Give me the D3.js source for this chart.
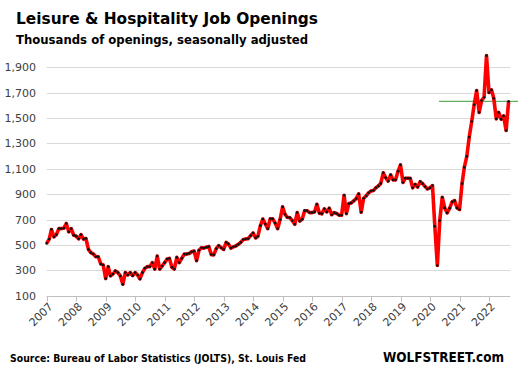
<!DOCTYPE html>
<html>
<head>
<meta charset="utf-8">
<script src="https://cdn.jsdelivr.net/npm/d3@7"></script>
<style>
  body { margin: 0; background: #fff; }
  svg { display: block; font-family: "DejaVu Sans", sans-serif; }
</style>
</head>
<body>
<div id="chart"></div>
<script>
// Leisure & hospitality job openings, thousands, SA, monthly from Jan 2007
const firstMonth = "2007-01";
const openings = [
  512, 546, 622, 564, 582, 629, 629, 632, 669, 603, 629, 577,    // 2007
  569, 548, 582, 546, 551, 465, 439, 428, 407, 407, 350, 342,    // 2008
  235, 329, 256, 271, 295, 282, 256, 190, 282, 263, 282, 258,    // 2009
  282, 263, 232, 282, 316, 329, 329, 360, 310, 412, 310, 334,    // 2010
  360, 389, 394, 324, 310, 402, 360, 394, 428, 428, 433, 446,    // 2011
  452, 376, 458, 478, 475, 482, 487, 424, 422, 471, 495, 478,    // 2012
  465, 520, 508, 475, 485, 492, 505, 521, 542, 547, 550, 573,    // 2013
  594, 555, 568, 652, 704, 665, 628, 706, 706, 672, 628, 700,    // 2014
  800, 740, 718, 715, 692, 663, 755, 688, 702, 770, 770, 755,    // 2015
  755, 760, 820, 750, 745, 785, 760, 790, 738, 755, 748, 735,    // 2016
  734, 891, 747, 826, 831, 848, 865, 902, 758, 868, 886, 910,    // 2017
  925, 930, 950, 965, 985, 1068, 1030, 1003, 1052, 1013, 1013, 1080, // 2018
  1131, 992, 1026, 1026, 1025, 950, 978, 956, 999, 983, 960, 941,    // 2019
  950, 968, 647, 338, 692, 876, 792, 752, 790, 839, 849, 792,        // 2020
  779, 983, 1111, 1198, 1350, 1473, 1604, 1717, 1544, 1638, 1664, 1992, // 2021
  1701, 1722, 1656, 1494, 1544, 1491, 1517, 1402, 1632              // 2022
];
const yTicks = [100, 300, 500, 700, 900, 1100, 1300, 1500, 1700, 1900];
const xYears = [2007, 2008, 2009, 2010, 2011, 2012, 2013, 2014, 2015, 2016, 2017, 2018, 2019, 2020, 2021, 2022];
const refLevel = 1632;  // latest value, marked with a line

const width = 521, height = 372;
const svg = d3.select("#chart").append("svg").attr("width", width).attr("height", height);

const parseMonth = d3.timeParse("%Y-%m");
const start = parseMonth(firstMonth);
const data = openings.map((v, i) => ({ date: d3.timeMonth.offset(start, i), value: v }));

let x = d3.scaleTime().domain([new Date(2007, 0, 1), new Date(2022, 0, 1)]).range([46.7, 489]),
    y = d3.scaleLinear().domain([100, 1900]).range([295.7, 67.3]);

const xEnd = x(new Date(2022, 8, 22));

// gridlines
svg.append("g")
  .selectAll("line")
  .data(yTicks.slice(1))
  .join("line")
  .attr("x1", x.range()[0]).attr("x2", xEnd)
  .attr("y1", d => Math.round(y(d)) + 0.5).attr("y2", d => Math.round(y(d)) + 0.5)
  .attr("stroke", "#d9d9d9");

// y labels
svg.append("g")
  .selectAll("text")
  .data(yTicks)
  .join("text")
  .attr("x", 36)
  .attr("y", d => y(d))
  .attr("dy", "0.36em")
  .attr("text-anchor", "end")
  .attr("font-size", 11)
  .attr("fill", "#404040")
  .text(d => d3.format(",")(d));

// x axis
const xAxis = svg.append("g").attr("transform", `translate(0,${Math.round(y(100)) + 0.5})`);
xAxis.append("line").attr("x1", x.range()[0]).attr("x2", xEnd).attr("stroke", "#bfbfbf");
xAxis.selectAll("line.tick")
  .data(xYears)
  .join("line")
  .attr("class", "tick")
  .attr("x1", d => Math.round(x(new Date(d, 0, 1))) + 0.5)
  .attr("x2", d => Math.round(x(new Date(d, 0, 1))) + 0.5)
  .attr("y1", 0).attr("y2", 5)
  .attr("stroke", "#bfbfbf");
xAxis.selectAll("text")
  .data(xYears)
  .join("text")
  .attr("transform", d => `translate(${x(new Date(d, 0, 1)) + 4},8) rotate(-45)`)
  .attr("text-anchor", "end")
  .attr("dy", "0.35em")
  .attr("font-size", 11)
  .attr("fill", "#404040")
  .text(d => d);

// reference line at latest level
svg.append("line")
  .attr("x1", 439).attr("x2", 518)
  .attr("y1", y(refLevel)).attr("y2", y(refLevel))
  .attr("stroke", "#3a9a3a")
  .attr("stroke-width", 1);

const line = d3.line()
  .x(d => x(d.date))
  .y(d => y(d.value));

svg.append("path")
  .datum(data)
  .attr("fill", "none")
  .attr("stroke", "#ff0000")
  .attr("stroke-width", 3.6)
  .attr("stroke-linejoin", "round")
  .attr("d", line);

svg.append("g")
  .selectAll("circle")
  .data(data)
  .join("circle")
  .attr("cx", d => x(d.date))
  .attr("cy", d => y(d.value))
  .attr("r", 1.35)
  .attr("fill", "#111");

// titles and footer
function label(txt, xPos, yPos, size, len) {
  svg.append("text")
    .attr("x", xPos).attr("y", yPos)
    .attr("font-size", size)
    .attr("font-weight", "bold")
    .attr("fill", "#000")
    .attr("textLength", len)
    .attr("lengthAdjust", "spacingAndGlyphs")
    .text(txt);
}
label("Leisure & Hospitality Job Openings", 16, 23.5, 16.5, 302);
label("Thousands of openings, seasonally adjusted", 16, 43.5, 13, 292);
label("Source: Bureau of Labor Statistics (JOLTS), St. Louis Fed", 10, 362, 11, 296);
label("WOLFSTREET.com", 383, 362, 13.5, 121);
</script>
</body>
</html>
